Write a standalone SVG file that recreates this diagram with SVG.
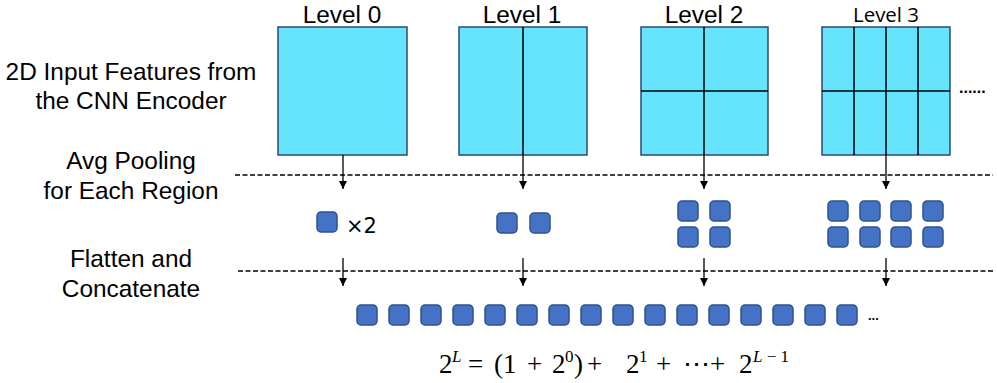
<svg xmlns="http://www.w3.org/2000/svg" width="997" height="383" viewBox="0 0 997 383">
<defs>
<style>
.lbl{font-family:"Liberation Sans",Arial,sans-serif;font-size:24.4px;fill:#000;text-anchor:middle}
.box{fill:#66E3FD;stroke:#2E4A6E;stroke-width:1.5}
.div{stroke:#000;stroke-width:1.5;fill:none}
.sq{fill:#4472C4;stroke:#2F528F;stroke-width:1.5}
.dash{stroke:#000;stroke-width:1.5;stroke-dasharray:5 2.5;fill:none}
.arr{stroke:#000;stroke-width:1.3;fill:none;marker-end:url(#ah)}
.math{font-family:"Liberation Serif","Times New Roman",serif;font-size:27px;fill:#000}
.sup{font-size:17px}
</style>
<marker id="ah" viewBox="0 0 10 10" refX="10" refY="5" markerWidth="8" markerHeight="8" markerUnits="userSpaceOnUse" orient="auto">
<path d="M0,0 L10,5 L0,10 Z" fill="#000"/>
</marker>
</defs>
<rect width="997" height="383" fill="#fff"/>

<g id="labels-left">
<text class="lbl" x="131" y="80">2D Input Features from</text>
<text class="lbl" x="131" y="109">the CNN Encoder</text>
<text class="lbl" x="131" y="169">Avg Pooling</text>
<text class="lbl" x="131" y="199">for Each Region</text>
<text class="lbl" x="131" y="267">Flatten and</text>
<text class="lbl" x="131" y="297">Concatenate</text>
</g>

<g id="level0">
<text class="lbl" x="342" y="23">Level 0</text>
<rect class="box" x="278" y="27" width="129" height="128"/>
</g>
<g id="level1">
<text class="lbl" x="522" y="23">Level 1</text>
<rect class="box" x="459" y="27" width="128" height="128"/>
<line class="div" x1="523" y1="27" x2="523" y2="155"/>
</g>
<g id="level2">
<text class="lbl" x="704" y="23">Level 2</text>
<rect class="box" x="641" y="27" width="127" height="128"/>
<line class="div" x1="704" y1="27" x2="704" y2="155"/>
<line class="div" x1="641" y1="91" x2="768" y2="91"/>
</g>
<g id="level3">
<text x="886" y="22" font-family="'Open Sans','Noto Sans',sans-serif" font-size="20" text-anchor="middle" textLength="66" lengthAdjust="spacingAndGlyphs">Level 3</text>
<rect class="box" x="822" y="27" width="128" height="128"/>
<line class="div" x1="854" y1="27" x2="854" y2="155"/>
<line class="div" x1="886" y1="27" x2="886" y2="155"/>
<line class="div" x1="918" y1="27" x2="918" y2="155"/>
<line class="div" x1="822" y1="91" x2="950" y2="91"/>
<text x="959" y="93" font-family="'Liberation Sans',Arial,sans-serif" font-size="16" font-weight="bold">......</text>
</g>

<g id="connectors">
<line class="dash" x1="235" y1="175" x2="993" y2="175"/>
<line class="dash" x1="238" y1="271" x2="993" y2="271"/>
<line class="arr" x1="343" y1="155" x2="343" y2="189"/>
<line class="arr" x1="523" y1="155" x2="523" y2="189"/>
<line class="arr" x1="704" y1="155" x2="704" y2="189"/>
<line class="arr" x1="886" y1="155" x2="886" y2="189"/>
<line class="arr" x1="343" y1="258" x2="343" y2="286"/>
<line class="arr" x1="523" y1="258" x2="523" y2="286"/>
<line class="arr" x1="704" y1="258" x2="704" y2="286"/>
<line class="arr" x1="886" y1="258" x2="886" y2="286"/>
</g>

<g id="pool0">
<rect class="sq" x="317" y="212" width="20" height="20" rx="4"/>
<text x="346" y="233" font-family="'DejaVu Sans','Liberation Sans',sans-serif" font-size="21">×2</text>
</g>
<g id="pool1">
<rect class="sq" x="497" y="213" width="20" height="20" rx="4"/>
<rect class="sq" x="530" y="213" width="20" height="20" rx="4"/>
</g>
<g id="pool2">
<rect class="sq" x="678" y="201" width="20" height="20" rx="4"/>
<rect class="sq" x="710" y="201" width="20" height="20" rx="4"/>
<rect class="sq" x="678" y="227" width="20" height="20" rx="4"/>
<rect class="sq" x="710" y="227" width="20" height="20" rx="4"/>
</g>
<g id="pool3">
<rect class="sq" x="828" y="201" width="20" height="20" rx="4"/>
<rect class="sq" x="860" y="201" width="20" height="20" rx="4"/>
<rect class="sq" x="891" y="201" width="20" height="20" rx="4"/>
<rect class="sq" x="923" y="201" width="20" height="20" rx="4"/>
<rect class="sq" x="828" y="227" width="20" height="20" rx="4"/>
<rect class="sq" x="860" y="227" width="20" height="20" rx="4"/>
<rect class="sq" x="891" y="227" width="20" height="20" rx="4"/>
<rect class="sq" x="923" y="227" width="20" height="20" rx="4"/>
</g>

<g id="concat">
<rect class="sq" x="357" y="305" width="20" height="20" rx="4"/>
<rect class="sq" x="389" y="305" width="20" height="20" rx="4"/>
<rect class="sq" x="421" y="305" width="20" height="20" rx="4"/>
<rect class="sq" x="453" y="305" width="20" height="20" rx="4"/>
<rect class="sq" x="485" y="305" width="20" height="20" rx="4"/>
<rect class="sq" x="517" y="305" width="20" height="20" rx="4"/>
<rect class="sq" x="549" y="305" width="20" height="20" rx="4"/>
<rect class="sq" x="581" y="305" width="20" height="20" rx="4"/>
<rect class="sq" x="613" y="305" width="20" height="20" rx="4"/>
<rect class="sq" x="645" y="305" width="20" height="20" rx="4"/>
<rect class="sq" x="677" y="305" width="20" height="20" rx="4"/>
<rect class="sq" x="709" y="305" width="20" height="20" rx="4"/>
<rect class="sq" x="741" y="305" width="20" height="20" rx="4"/>
<rect class="sq" x="773" y="305" width="20" height="20" rx="4"/>
<rect class="sq" x="805" y="305" width="20" height="20" rx="4"/>
<rect class="sq" x="837" y="305" width="20" height="20" rx="4"/>
<text x="868" y="320" font-family="'Liberation Sans',Arial,sans-serif" font-size="13" font-weight="bold">...</text>
</g>

<g id="formula">
<text class="math" y="373"><tspan x="439">2</tspan><tspan class="sup" x="452" dy="-11" font-style="italic">L</tspan><tspan x="468" dy="11">=</tspan><tspan x="494">(1</tspan><tspan x="527">+</tspan><tspan x="552">2</tspan><tspan class="sup" x="565" dy="-11">0</tspan><tspan x="574" dy="11">)</tspan><tspan x="587">+</tspan><tspan x="626">2</tspan><tspan class="sup" x="639" dy="-11">1</tspan><tspan x="656" dy="11">+</tspan><tspan x="683">⋯</tspan><tspan x="710">+</tspan><tspan x="739">2</tspan><tspan class="sup" x="753" dy="-11"><tspan font-style="italic">L</tspan> − 1</tspan></text>
</g>
</svg>
